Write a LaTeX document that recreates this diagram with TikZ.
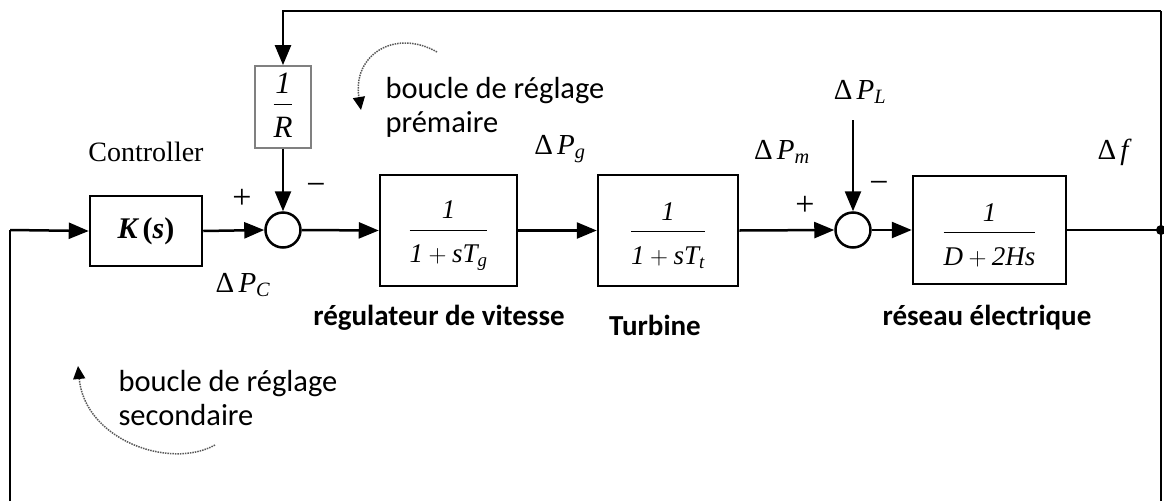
\documentclass[tikz,border=0pt]{standalone}
\usepackage{fontspec}
\usepackage{amsmath}
\setmainfont{Liberation Serif}
\newfontfamily\calib{Carlito}
\usetikzlibrary{arrows.meta}
\newcommand\mi[1]{\text{\itshape #1}}
\newcommand\dn{\rule{0pt}{29pt}}
\newcommand\up{\rule[-8pt]{0pt}{0pt}}
\newcommand\lowerit[1]{\raisebox{-5pt}[\height][\depth]{#1}}
\tikzset{
  box/.style={draw, line width=2.5pt, inner sep=0pt},
  sumc/.style={circle, draw, line width=2.5pt, minimum size=35pt, inner sep=0pt},
  lab/.style={font=\fontsize{29}{32}\selectfont},
  sgn/.style={font=\fontsize{34}{36}\selectfont},
  ann/.style={font=\calib\fontsize{30.5}{34}\selectfont, align=left, text=black, anchor=west},
  capt/.style={font=\calib\bfseries\fontsize{29}{32}\selectfont},
  looparrow/.style={densely dotted, line width=1.5pt, black!65, -{Triangle[length=13pt,width=12pt,color=black]}},
  sig/.style={line width=2.5pt, -{Triangle[length=20pt,width=16pt]}},
  wire/.style={line width=2.5pt}
}
\begin{document}
\begin{tikzpicture}[x=1pt, y=-1pt]
\useasboundingbox (0,0) rectangle (1164,501);
% blocks
\node[box, minimum width=112pt, minimum height=70pt, font=\fontsize{30}{32}\selectfont\bfseries] (K) at (146,231) {\itshape K\,\upshape(\itshape s\upshape)};
\node[sumc] (S1) at (283,230) {};
\node[draw, gray, line width=1.8pt, inner sep=0pt, minimum width=56pt, minimum height=82pt, text=black, font=\fontsize{31}{34}\selectfont] (R) at (283,107) {\raisebox{2pt}[\height][\depth]{$\dfrac{\up\mi{1}}{\dn\mi{R}}$}};
\node[box, minimum width=137pt, minimum height=111pt, font=\fontsize{27}{30}\selectfont] (G1) at (448.5,230.5) {\lowerit{$\dfrac{\up\mi{1}}{\dn\mi{1}+\mi{sT}_{\mi{g}}}$}};
\node[box, minimum width=140pt, minimum height=111pt, font=\fontsize{27}{30}\selectfont] (G2) at (668,230.5) {\lowerit{$\dfrac{\up\mi{1}}{\dn\mi{1}+\mi{sT}_{\mi{t}}}$}};
\node[sumc] (S2) at (853,230) {};
\node[box, minimum width=153pt, minimum height=108pt, font=\fontsize{27}{30}\selectfont] (G3) at (989.5,230) {\lowerit{$\dfrac{\up\mi{1}}{\dn\mi{D}+\mi{2Hs}}$}};
% coordinates
\coordinate (L) at (10,230);
\coordinate (LB) at (10,501);
\coordinate (D) at (1161,230);
\coordinate (RB) at (1161,501);
\coordinate (RT) at (1161,11);
\coordinate (TL) at (283,11);
\coordinate (PL) at (853,120);
\fill (D) circle (5pt);
% connectors
\draw[wire] (LB) -- (L);
\draw[sig] (L) -- (K.west);
\draw[sig] (K.east) -- (S1.west);
\draw[sig] (S1.east) -- (G1.west);
\draw[sig] (G1.east) -- (G2.west);
\draw[sig] (G2.east) -- (S2.west);
\draw[sig] (S2.east) -- (G3.west);
\draw[wire] (G3.east) -- (D);
\draw[wire] (RB) -- (RT);
\draw[sig] (RT) -- (TL) -- (R.north);
\draw[sig] (R.south) -- (S1.north);
\draw[sig] (PL) -- (S2.north);
% signs
\node[sgn] (p1) at (242,199) {+};
\node[sgn] (m1) at (316,189) {−};
\node[sgn] (p2) at (805,206) {+};
\node[sgn] (m2) at (879,187) {−};
% signal labels
\node[lab, font=\fontsize{28}{32}\selectfont] (cl) at (146,152) {Controller};
\node[lab] (dpc) at (243,285) {$\text{Δ}\,\mi{P}_{\mi{C}}$};
\node[lab] (dpg) at (560,149) {$\text{Δ}\,\mi{P}_{\mi{g}}$};
\node[lab] (dpm) at (782,152) {$\text{Δ}\,\mi{P}_{\mi{m}}$};
\node[lab] (dpl) at (860,92) {$\text{Δ}\,\mi{P}_{\mi{L}}$};
\node[lab] (df) at (1113,152) {$\text{Δ}\,\mi{f}$};
% captions
\node[capt] (c1) at (439,318) {régulateur de vitesse};
\node[capt] (c2) at (655,325) {Turbine};
\node[capt] (c3) at (987,318) {réseau électrique};
% annotations
\node[ann] (a1) at (382,107) {boucle de réglage\\prémaire};
\node[ann] (a2) at (115,398) {boucle de réglage\\secondaire};
\draw[looparrow] (437,52) .. controls (395,28) and (352,55) .. (361,110);
\draw[looparrow] (215,445) .. controls (170,470) and (85,440) .. (78,366);
\end{tikzpicture}
\end{document}
